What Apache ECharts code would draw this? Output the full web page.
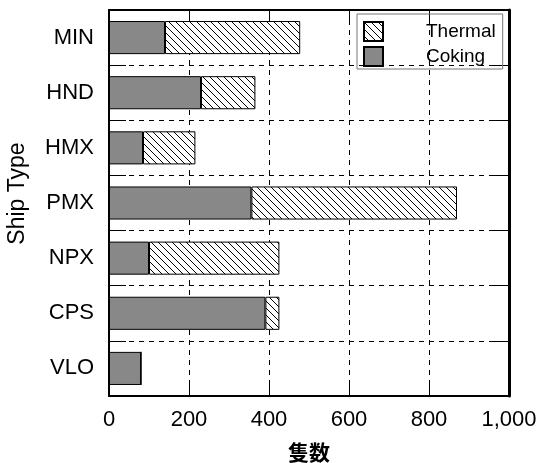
<!DOCTYPE html>
<html>
<head>
<meta charset="utf-8">
<script src="https://cdn.jsdelivr.net/npm/echarts@6/dist/echarts.min.js"></script>
<style>
html,body{margin:0;padding:0;background:#fff;}
#c{width:538px;height:463px;}
</style>
</head>
<body>
<div id="c"></div>
<script>
var categories = ['MIN', 'HND', 'HMX', 'PMX', 'NPX', 'CPS', 'VLO'];
var coking = [140, 230, 85, 356, 100, 391, 80];
var thermal = [338, 136, 131, 514, 326, 35, 0];
var xTicks = [0, 200, 400, 600, 800, 1000];

function hatch() {
  var s = 7;
  var cv = document.createElement('canvas');
  cv.width = s; cv.height = s;
  var ctx = cv.getContext('2d');
  ctx.fillStyle = '#fff';
  ctx.fillRect(0, 0, s, s);
  ctx.strokeStyle = '#000';
  ctx.lineWidth = 1;
  for (var k = -1; k <= 1; k++) {
    ctx.beginPath();
    ctx.moveTo(k * s, 0);
    ctx.lineTo(k * s + s, s);
    ctx.stroke();
  }
  return cv;
}

var font = 'Liberation Sans, Arial, sans-serif';
var chart = echarts.init(document.getElementById('c'), null, {renderer: 'canvas'});
var dashed = {show: true, lineStyle: {color: '#000', width: 1, type: [5, 5]}};
var frame = function (w) { return {show: true, onZero: false, lineStyle: {color: '#000', width: w}}; };
var ticksIn = function (len) { return {show: true, inside: true, length: len, lineStyle: {color: '#000', width: 1}}; };

chart.setOption({
  animation: false,
  backgroundColor: '#fff',
  grid: {left: 109, right: 29, top: 10, bottom: 67, containLabel: false, outerBoundsMode: 'none'},
  legend: {
    orient: 'vertical',
    left: 357, top: 14,
    data: ['Thermal', 'Coking'],
    icon: 'rect',
    itemWidth: 19, itemHeight: 19, itemGap: 4,
    padding: [7, 7, 2, 6],
    borderColor: '#777', borderWidth: 1,
    textStyle: {fontFamily: font, fontSize: 19, color: '#000', padding: [0, 0, 0, 38]}
  },
  xAxis: [
    {
      type: 'value', position: 'bottom', min: 0, max: 1000, interval: 200,
      axisLine: frame(2), axisTick: ticksIn(16), splitLine: dashed,
      axisLabel: {fontFamily: font, fontSize: 22, color: '#000', margin: 13},
      name: '隻数', nameLocation: 'middle', nameGap: 46,
      nameTextStyle: {fontFamily: 'Noto Sans CJK JP', fontSize: 21, fontWeight: 'bold', color: '#000'}
    },
    {
      type: 'value', position: 'top', min: 0, max: 1000, interval: 200,
      axisLine: frame(2), axisTick: ticksIn(13), splitLine: {show: false}, axisLabel: {show: false}
    }
  ],
  yAxis: [
    {
      type: 'category', data: categories, inverse: true, position: 'left',
      axisLine: frame(2), axisTick: ticksIn(17), splitLine: dashed,
      axisLabel: {fontFamily: font, fontSize: 22, color: '#000', margin: 15},
      name: 'Ship Type', nameLocation: 'middle', nameGap: 80,
      nameTextStyle: {fontFamily: font, fontSize: 23, color: '#000', padding: [0, 0, 0, 19]}
    },
    {
      type: 'category', data: categories, inverse: true, position: 'right',
      axisLine: frame(3), axisTick: ticksIn(15), splitLine: {show: false}, axisLabel: {show: false}
    }
  ],
  series: [
    {
      name: 'Coking', type: 'bar', stack: 'a', data: coking, barWidth: '60%',
      itemStyle: {color: '#888888', borderColor: '#000', borderWidth: 1}
    },
    {
      name: 'Thermal', type: 'bar', stack: 'a', data: thermal, barWidth: '60%',
      itemStyle: {color: {image: hatch(), repeat: 'repeat'}, borderColor: '#000', borderWidth: 1}
    }
  ]
});
</script>
</body>
</html>
